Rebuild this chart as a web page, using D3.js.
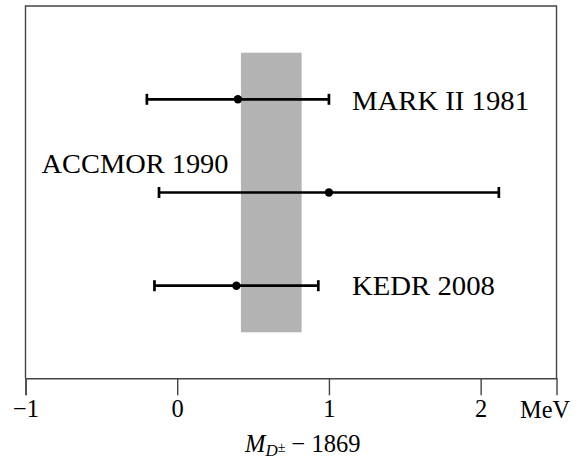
<!DOCTYPE html>
<html><head><meta charset="utf-8">
<script src="https://cdn.jsdelivr.net/npm/d3@7"></script>
<style>body{margin:0;background:#fff}svg{display:block}text{font-family:"Liberation Serif","DejaVu Serif",serif;fill:#000}</style>
</head><body>
<svg id="c" width="582" height="465"></svg>
<script>
const experiments = ["MARK II 1981", "ACCMOR 1990", "KEDR 2008"];
const centers = [0.40, 1.00, 0.39];
const errors = [0.60, 1.12, 0.54];
const band = [0.42, 0.82];
const ticks = [-1, 0, 1, 2];
const unitLabel = "MeV";

const svg = d3.select("#c");
const x = d3.scaleLinear().domain([-1, 2.5]).range([25.5, 556.5]);
const y = d3.scalePoint().domain(experiments).range([52.7, 332.3]).padding(0.5);
const frameTop = 6, frameBottom = 378.3;

// band
svg.append("rect").attr("x", x(band[0])).attr("width", x(band[1]) - x(band[0]))
  .attr("y", 52.7).attr("height", 332.3 - 52.7).attr("fill", "#b3b3b3");

// frame
svg.append("path").attr("d", `M${x(-1)},${frameBottom}V${frameTop}H${x(2.5)}V${frameBottom}`)
  .attr("fill", "none").attr("stroke", "#444").attr("stroke-width", 1.4);

// axis
const ax = d3.axisBottom(x).tickValues(ticks).tickSize(17).tickPadding(4)
  .tickFormat(d => d < 0 ? "\u2212" + Math.abs(d) : d);
const g = svg.append("g").attr("transform", `translate(0,${frameBottom})`).call(ax);
g.select(".domain").attr("stroke", "#444").attr("stroke-width", 1.4);
g.selectAll(".tick line").attr("stroke", "#444").attr("stroke-width", 1.4);
g.selectAll(".tick text").attr("font-size", 24.5).attr("font-family", "Liberation Serif").attr("fill", "#000").attr("dy", "0.72em");
svg.append("text").attr("x", 520).attr("y", 418).attr("font-size", 24.5).attr("textLength", 50).attr("lengthAdjust", "spacingAndGlyphs").text(unitLabel);

// title
const t = svg.append("text").attr("x", 245).attr("y", 452).attr("font-size", 24.5);
t.append("tspan").attr("font-style", "italic").text("M");
t.append("tspan").attr("font-style", "italic").attr("font-size", 17).attr("dy", 4).text("D");
t.append("tspan").attr("font-size", 14).attr("dy", -4).text("\u00b1");
t.append("tspan").attr("dy", 0).text(" \u2212 1869");

// error bars
const eb = svg.append("g");
experiments.forEach((e, i) => {
  const yy = y(e), lo = x(centers[i] - errors[i]), hi = x(centers[i] + errors[i]);
  eb.append("line").attr("x1", lo).attr("x2", hi).attr("y1", yy).attr("y2", yy).attr("stroke", "#000").attr("stroke-width", 2.7);
  [lo, hi].forEach(xx => eb.append("line").attr("x1", xx).attr("x2", xx).attr("y1", yy - 5.5).attr("y2", yy + 5.5).attr("stroke", "#000").attr("stroke-width", 2.7));
  eb.append("circle").attr("cx", x(centers[i])).attr("cy", yy).attr("r", 4.2).attr("fill", "#000");
});

// labels
const labelPos = [[352, y(experiments[0]) + 10.5], [41.5, 173.3], [352, y(experiments[2]) + 9]];
const labelLen = [177, 187, 143];
experiments.forEach((e, i) => {
  svg.append("text").attr("x", labelPos[i][0]).attr("y", labelPos[i][1]).attr("font-size", 26.5)
    .attr("textLength", labelLen[i]).attr("lengthAdjust", "spacingAndGlyphs").text(e);
});
</script>
</body></html>
